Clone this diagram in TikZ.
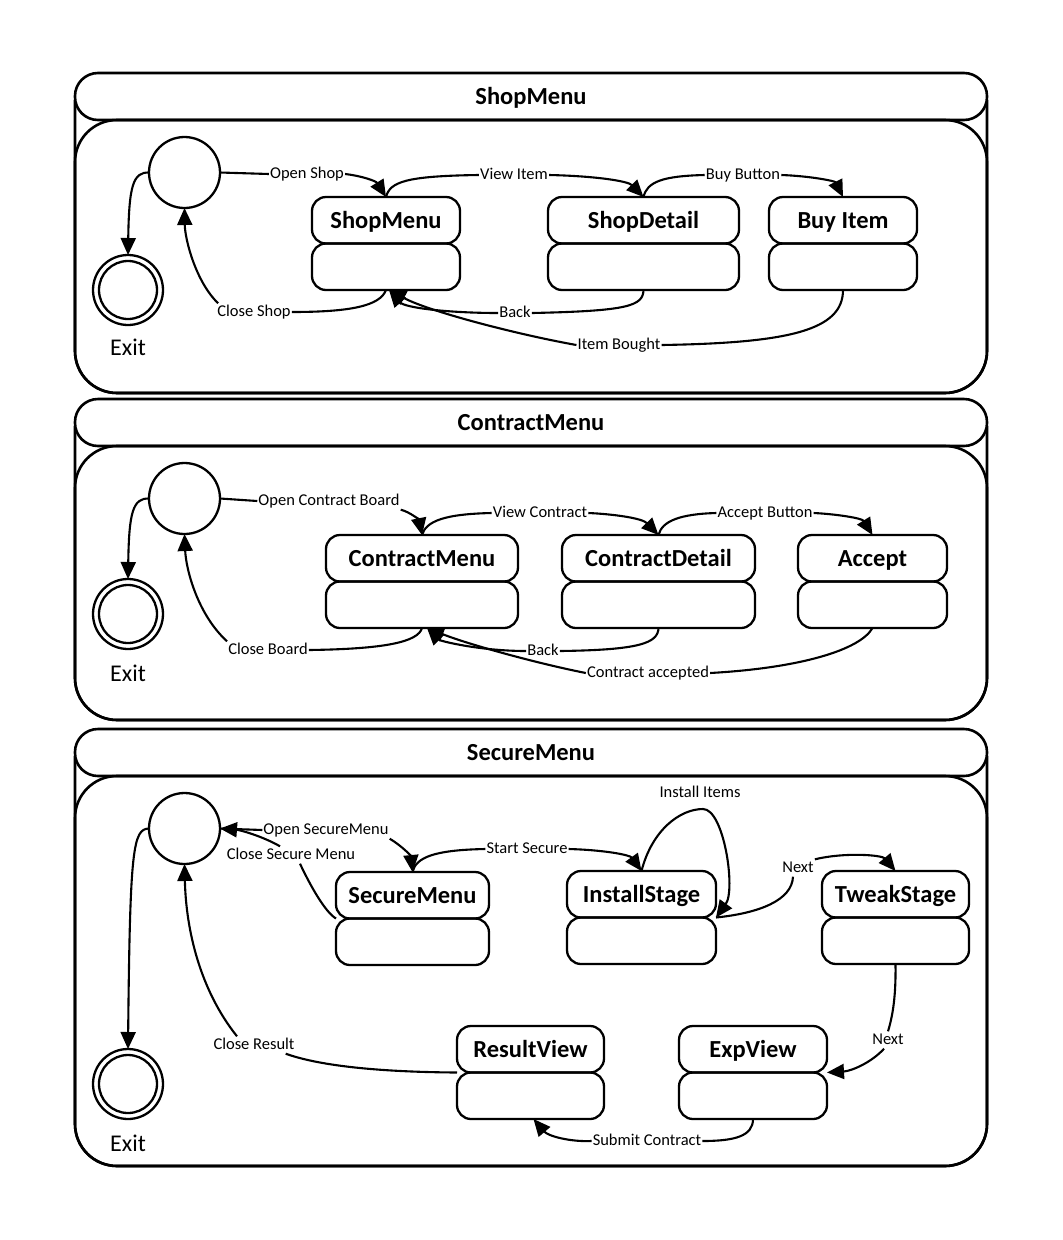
\documentclass[tikz,border=0pt]{standalone}
\usepackage{fontspec}
\setmainfont{Carlito}
\usetikzlibrary{arrows.meta,calc}
\tikzset{
 cont/.style={line width=2.6pt},
 hdr/.style={draw, line width=2.6pt, fill=white, rounded corners=23pt, minimum width=912pt, minimum height=47pt, inner sep=0pt, font=\fontsize{24.5pt}{26pt}\selectfont\bfseries, text height=19pt, text depth=3pt},
 stb/.style={line width=2.3pt, rounded corners=14pt},
 stlab/.style={font=\fontsize{24.5pt}{26pt}\selectfont\bfseries, inner sep=0pt, text height=19pt, text depth=3pt},
 initst/.style={circle, draw, line width=2.3pt, minimum size=71pt, inner sep=0pt, outer sep=0pt},
 finst/.style={circle, draw, line width=2.3pt, minimum size=70pt, inner sep=0pt, outer sep=0pt},
 exitlab/.style={font=\fontsize{24pt}{26pt}\selectfont},
 elab/.style={font=\fontsize{16.5pt}{18pt}\selectfont, fill=white, inner sep=1pt, text height=11.5pt, text depth=3.5pt},
 edge/.style={line width=2.1pt},
 arr/.style={edge, -{Triangle[length=17pt,width=15pt]}},
}
\newcommand{\StBox}[5]{%
 \node[minimum width=#4pt, minimum height=93pt, inner sep=0pt, outer sep=0pt] (#1) at (#2,#3+46.5) {};
 \draw[stb] (#1.north west) rectangle (#1.east);
 \draw[stb] (#1.west) rectangle (#1.south east);
 \node[stlab] (#1-l) at ($(#1.north)!0.5!(#1.center)$) {#5};
}
\newcommand{\SecCont}[4]{%
 \draw[cont, rounded corners=42pt] (75,#2+27) -- (75,#3) -- (987,#3) -- (987,#2+27);
 \node[hdr] (#1) at (531,#2+23.5) {#4};
 \draw[cont, rounded corners=42pt] (75,#2+47) rectangle (987,#3);
}
\begin{document}
\begin{tikzpicture}[x=1pt,y=-1pt]
\useasboundingbox (0,0) rectangle (1063,1240);
% ================= Section 1 =================
\SecCont{h1}{73}{393}{ShopMenu}
\node[initst] (i1) at (184.5,172.5) {};
\node[finst] (f1) at (128,290) {};
\draw[line width=2.3pt] (f1.center) circle (29pt);
\node[exitlab] (x1) at (128,347) {Exit};
\StBox{s1}{386}{197}{148}{ShopMenu}
\StBox{s2}{643.5}{197}{191}{ShopDetail}
\StBox{s3}{843}{197}{148}{Buy Item}
\node[elab] (e1) at (307,174) {Open Shop};
\node[elab] (e2) at (514,175) {View Item};
\node[elab] (e3) at (743,175) {Buy Button};
\node[elab] (e4) at (515,313) {Back};
\node[elab] (e5) at (619,345) {Item Bought};
\node[elab] (e6) at (254,312) {Close Shop};
\draw[edge] (i1.east) -- (e1.west);
\draw[arr] (e1.east) .. controls (362,176) and (376,181) .. (s1.north);
\draw[edge] (s1.north) .. controls (390,182) and (405,176) .. (e2.west);
\draw[arr] (e2.east) .. controls (595,176) and (628,181) .. (s2.north);
\draw[edge] (s2.north) .. controls (647,182) and (662,176) .. (e3.west);
\draw[arr] (e3.east) .. controls (810,176) and (835,181) .. (s3.north);
\draw[edge] (s2.south) .. controls (643,306) and (628,311) .. (e4.east);
\draw[arr] (e4.west) .. controls (450,313) and (405,308) .. ($(s1.south)+(3,0)$);
\draw[edge] (s3.south) .. controls (843,330) and (790,343) .. (e5.east);
\draw[arr] (e5.west) .. controls (520,335) and (430,312) .. ($(s1.south)+(3,0)$);
\draw[edge] (s1.south) .. controls (380,306) and (350,312) .. (e6.east);
\draw[arr] ($(e6.north west)+(2,0)$) .. controls (196,282) and (185,240) .. (i1.south);
\draw[arr] (i1.west) .. controls (133,172) and (129,186) .. (f1.north);
% ================= Section 2 =================
\SecCont{h2}{399}{720}{ContractMenu}
\node[initst] (i2) at (184.5,498.5) {};
\node[finst] (f2) at (128,614) {};
\draw[line width=2.3pt] (f2.center) circle (29pt);
\node[exitlab] (x2) at (128,673) {Exit};
\StBox{c1}{422}{535}{192}{ContractMenu}
\StBox{c2}{658.5}{535}{193}{ContractDetail}
\StBox{c3}{872.5}{535}{149}{Accept}
\node[elab] (g1) at (329,501) {Open Contract Board};
\node[elab] (g2) at (540,513) {View Contract};
\node[elab] (g3) at (765,513) {Accept Button};
\node[elab] (g4) at (543,651) {Back};
\node[elab] (g5) at (648,673) {Contract accepted};
\node[elab] (g6) at (268,650) {Close Board};
\draw[edge] (i2.east) -- (g1.west);
\draw[arr] (g1.south east) .. controls (410,512) and (419,520) .. (c1.north);
\draw[edge] (c1.north) .. controls (426,521) and (445,514) .. (g2.west);
\draw[arr] (g2.east) .. controls (612,514) and (642,518) .. (c2.north);
\draw[edge] (c2.north) .. controls (662,521) and (680,514) .. (g3.west);
\draw[arr] (g3.east) .. controls (835,514) and (862,518) .. (c3.north);
\draw[edge] (c2.south) .. controls (658,643) and (640,650) .. (g4.east);
\draw[arr] (g4.west) .. controls (480,651) and (440,641) .. ($(c1.south)+(5,0)$);
\draw[edge] (c3.south) .. controls (860,650) and (800,668) .. (g5.east);
\draw[arr] (g5.west) .. controls (540,664) and (470,645) .. ($(c1.south)+(5,0)$);
\draw[edge] (c1.south) .. controls (418,642) and (385,649) .. (g6.east);
\draw[arr] (g6.north west) .. controls (198,615) and (186,570) .. (i2.south);
\draw[arr] (i2.west) .. controls (133,498) and (129,512) .. (f2.north);
% ================= Section 3 =================
\SecCont{h3}{729}{1166}{SecureMenu}
\node[initst] (i3) at (184.5,828.5) {};
\node[finst] (f3) at (128,1084) {};
\draw[line width=2.3pt] (f3.center) circle (29pt);
\node[exitlab] (x3) at (128,1143) {Exit};
\StBox{sm}{412.5}{872}{153}{SecureMenu}
\StBox{is}{641.5}{871}{149}{InstallStage}
\StBox{ts}{895.5}{871}{147}{TweakStage}
\StBox{rv}{530.5}{1026}{147}{ResultView}
\StBox{ev}{753}{1026}{148}{ExpView}
\node[elab] (k1) at (326,830) {Open SecureMenu};
\node[elab] (k2) at (291,855) {Close Secure Menu};
\node[elab] (k3) at (527,849) {Start Secure};
\node[elab] (k4) at (700,793) {Install Items};
\node[elab] (k5) at (798,868) {Next};
\node[elab] (k6) at (888,1040) {Next};
\node[elab] (k7) at (647,1141) {Submit Contract};
\node[elab] (k8) at (254,1045) {Close Result};
\draw[edge] (i3.east) -- (k1.west);
\draw[arr] (k1.south east) .. controls (402,846) and (411,856) .. (sm.north);
\draw[edge] (sm.west) .. controls (325,912) and (310,885) .. ($(k2.south)+(9,0)$);
\draw[arr] ($(k2.north)+(-11,0)$) .. controls (262,836) and (240,830) .. (i3.east);
\draw[edge] (sm.north) .. controls (416,858) and (432,850) .. (k3.west);
\draw[arr] (k3.east) .. controls (605,850) and (630,855) .. (is.north);
\draw[arr] (is.north) .. controls (652,830) and (680,809) .. (703,809) .. controls (724,809) and (736,890) .. (is.east);
\draw[edge] (is.east) .. controls (760,913) and (792,900) .. ($(k5.south)+(-5,0)$);
\draw[arr] (k5.north east) .. controls (845,852) and (882,855) .. (ts.north);
\draw[edge] (ts.south) .. controls (896,995) and (893,1015) .. (k6.north);
\draw[arr] ($(k6.south)+(-4,0)$) .. controls (872,1062) and (852,1071) .. (ev.east);
\draw[edge] (ev.south) .. controls (753,1136) and (735,1141) .. (k7.east);
\draw[arr] (k7.west) .. controls (570,1142) and (548,1136) .. ($(rv.south)+(3,0)$);
\draw[edge] (rv.west) .. controls (380,1072) and (320,1066) .. ($(k8.south east)+(-10,0)$);
\draw[arr] ($(k8.north)+(-17,0)$) .. controls (200,990) and (186,930) .. (i3.south);
\draw[arr] (i3.west) .. controls (133,829) and (130,848) .. (f3.north);
\end{tikzpicture}
\end{document}
